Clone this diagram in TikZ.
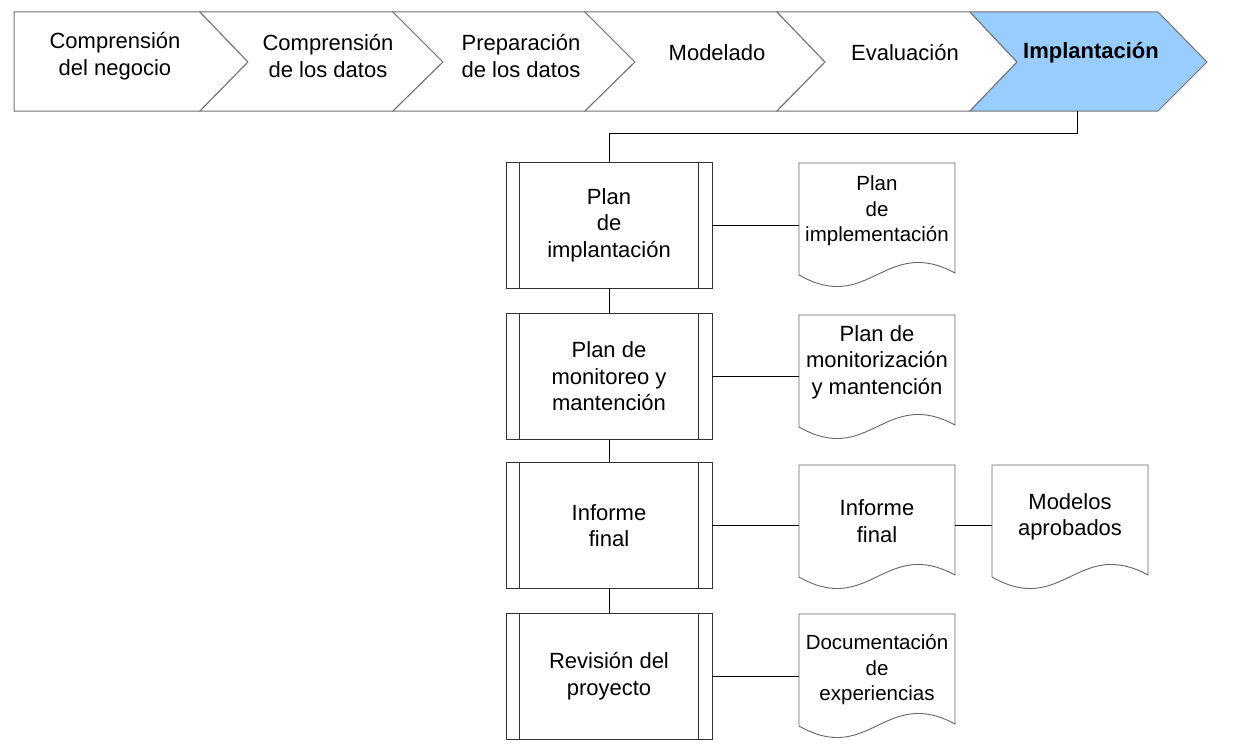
\documentclass[tikz,border=0pt]{standalone}
\usepackage{fontspec}
\setmainfont{Liberation Sans}
\definecolor{impblue}{HTML}{99CCFF}
\newcommand\docshape[2]{\begin{scope}[shift={(#1,#2)}]\draw[docline] (0,0) -- (156,0) -- (156,110) .. controls (86,72) and (70,152) .. (0,112) -- cycle;\end{scope}}
\begin{document}
\begin{tikzpicture}[x=1pt,y=-1pt,
  every node/.style={inner sep=0pt, align=center, font=\fontsize{22}{26.5}\selectfont},
  chev/.style={draw=black!55, line width=1pt, fill=white},
  procbox/.style={draw=black!80, line width=0.9pt, minimum width=206pt, minimum height=126pt},
  docline/.style={draw=black!60, line width=0.9pt, fill=white},
  doctext/.style={minimum width=156pt},
  smalltext/.style={font=\fontsize{20.5}{25.5}\selectfont},
  conn/.style={draw=black, line width=0.9pt}]
\useasboundingbox (0,0) rectangle (1246,752);

% chevrons
\draw[chev] (14,12) -- (200,12) -- (248,62) -- (200,111) -- (14,111) -- cycle;
\draw[chev] (200,12) -- (393,12) -- (443,62) -- (393,111) -- (200,111) -- (248,62) -- cycle;
\draw[chev] (393,12) -- (585,12) -- (635,62) -- (585,111) -- (393,111) -- (443,62) -- cycle;
\draw[chev] (585,12) -- (777,12) -- (825,62) -- (777,111) -- (585,111) -- (635,62) -- cycle;
\draw[chev] (777,12) -- (970,12) -- (1017,62) -- (970,111) -- (777,111) -- (825,62) -- cycle;
\draw[chev, fill=impblue] (970,12) -- (1158,12) -- (1207,62) -- (1158,111) -- (970,111) -- (1017,62) -- cycle;

\node (c1) at (115,56) {Comprensión\\del negocio};
\node (c2) at (328,56) {Comprensión\\de los datos};
\node (c3) at (521,56) {Preparación\\de los datos};
\node (c4) at (717,53) {Modelado};
\node (c5) at (905,53) {Evaluación};
\node[font=\fontsize{22}{26.5}\selectfont\bfseries] (c6) at (1091,53) {Implantación};
\coordinate (implbot) at (1077,111);

% process boxes
\node[procbox] (b1) at (609,225) {Plan\\de\\implantación};
\node[procbox] (b2) at (609,376.5) {Plan de\\monitoreo y\\mantención};
\node[procbox] (b3) at (609,525.5) {Informe\\final};
\node[procbox] (b4) at (609,676) {Revisión del\\proyecto};
\foreach \n in {b1,b2,b3,b4} {
  \draw[draw=black!80, line width=0.9pt] ([xshift=14pt]\n.north west) -- ([xshift=14pt]\n.south west);
  \draw[draw=black!80, line width=0.9pt] ([xshift=-14pt]\n.north east) -- ([xshift=-14pt]\n.south east);
}

% documents
\docshape{799}{163}
\docshape{799}{315}
\docshape{799}{465}
\docshape{992}{465}
\docshape{799}{614}
\node[doctext, smalltext] (d1) at (877,211) {Plan\\de\\implementación};
\node[doctext] (d2) at (877,362) {Plan de\\monitorización\\y mantención};
\node[doctext] (d3) at (877,521) {Informe\\final};
\node[doctext] (d4) at (1070,517) {Modelos\\aprobados};
\node[doctext, smalltext] (d5) at (877,670) {Documentación\\de\\experiencias};

% connectors
\draw[conn] (implbot) -- ++(0,22) -| (b1.north);
\draw[conn] (b1.south) -- (b2.north);
\draw[conn] (b2.south) -- (b3.north);
\draw[conn] (b3.south) -- (b4.north);
\draw[conn] (b1.east) -- (b1.east -| d1.west);
\draw[conn] (b2.east) -- (b2.east -| d2.west);
\draw[conn] (b3.east) -- (b3.east -| d3.west);
\draw[conn] (b3.east -| d3.east) -- (b3.east -| d4.west);
\draw[conn] (b4.east) -- (b4.east -| d5.west);
\end{tikzpicture}
\end{document}
